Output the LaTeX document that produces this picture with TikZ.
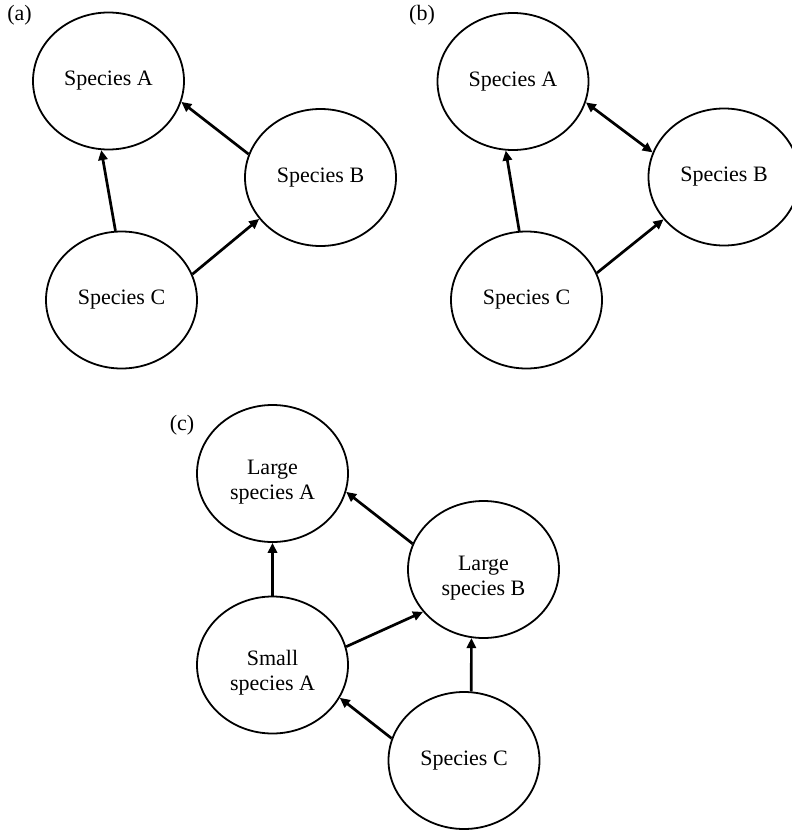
\documentclass[tikz,border=0pt]{standalone}
\usepackage{fontspec}
\setmainfont{Liberation Serif}
\usetikzlibrary{shapes.geometric,arrows.meta}

% taller first line so two-line labels sit a little below the centre
\newcommand{\toppad}{\rule{0pt}{15.5pt}}

\tikzset{
  species/.style={ellipse, draw, line width=0.9pt, inner sep=0pt,
    minimum width=75.5pt, minimum height=68.5pt, align=center,
    font=\fontsize{11}{12.6}\selectfont},
  link/.style={line width=1.35pt, -{Triangle[length=5pt,width=4.6pt]}},
  dlink/.style={line width=1.35pt, {Triangle[length=5pt,width=4.6pt]}-{Triangle[length=5pt,width=4.6pt]}},
  panel/.style={font=\fontsize{11}{12.6}\selectfont, inner sep=0pt}
}

\begin{document}
\begin{tikzpicture}[x=0.5pt, y=-0.5pt]
\useasboundingbox (0,0) rectangle (792,830);
\clip (0,0) rectangle (792,830);

% panel (a)
\node[panel] (la) at (19.5,15) {(a)};
\node[species] (aA) at (108.5,81)   {Species A};
\node[species] (aB) at (320.5,177.5) {Species B};
\node[species] (aC) at (121.5,300)  {Species C};
\draw[link] (aC.95.5) -- (aA.264.7);
\draw[link] (aB.162) -- (aA.344);
\draw[link] (aC.20.7) -- (aB.214.2);

% panel (b)
\node[panel] (lb) at (422,15) {(b)};
\node[species] (bA) at (513,81.5)  {Species A};
\node[species] (bB) at (724,177)   {Species B};
\node[species] (bC) at (526.5,300) {Species C};
\draw[link] (bC.96.3) -- (bA.264.3);
\draw[dlink] (bA.344.5) -- (bB.161.3);
\draw[link] (bC.21) -- (bB.215.2);

% panel (c)
\node[panel] (lc) at (182,425) {(c)};
\node[species] (cLA) at (272.5,473.5) {\toppad Large\\species A};
\node[species] (cLB) at (483.5,569.5) {\toppad Large\\species B};
\node[species] (cSA) at (272.5,665)   {\toppad Small\\species A};
\node[species] (cC)  at (464,760.5)   {Species C};
\draw[link] (cLB.160.4) -- (cLA.346);
\draw[link] (cSA.north) -- (cLA.south);
\draw[link] (cSA.14.5) -- (cLB.215.1);
\draw[link] (cC.84) -- (cLB.260);
\draw[link] (cC.163.4) -- (cSA.334);
\end{tikzpicture}
\end{document}
